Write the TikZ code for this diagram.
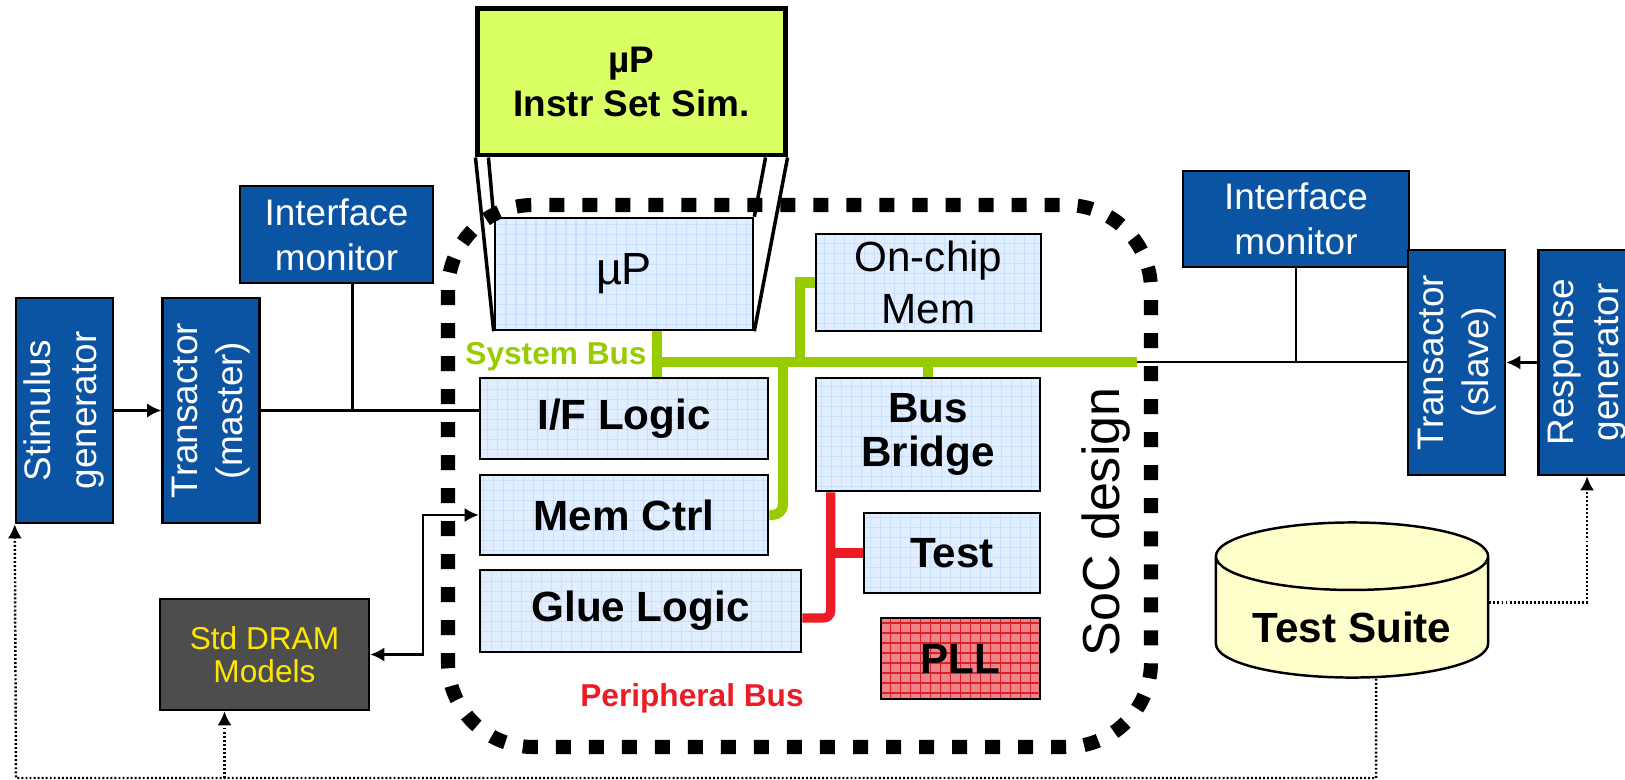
\documentclass[tikz,border=0pt]{standalone}
\usepackage{fontspec}
\setmainfont{Liberation Sans}
\usepackage{graphicx}
\usetikzlibrary{shapes.geometric, arrows.meta, positioning, calc}
\definecolor{tbblue}{RGB}{11, 84, 164}
\definecolor{chipblue}{RGB}{224, 238, 255}
\definecolor{chipgrid}{RGB}{198, 224, 255}
\definecolor{issgreen}{RGB}{218, 255, 100}
\definecolor{busgreen}{RGB}{153, 204, 0}
\definecolor{busred}{RGB}{237, 28, 36}
\definecolor{pllred}{RGB}{236, 132, 136}
\definecolor{pllgrid}{RGB}{220, 30, 40}
\definecolor{dramgray}{RGB}{77, 77, 77}
\definecolor{dramtext}{RGB}{255, 230, 0}
\definecolor{suiteyellow}{RGB}{255, 255, 204}

% two lines of text turned upright for the tall testbench boxes
\newcommand{\sidetext}[2]{\rotatebox{90}{\begin{tabular}{@{}c@{}}#1\\#2\end{tabular}}}

\begin{document}
\begin{tikzpicture}[x=0.01cm, y=-0.01cm, >={Latex[length=4pt,width=4pt]}]
    \tikzstyle{tbbox} = [rectangle, draw=black, line width=0.7pt, fill=tbblue,
                         text=white, inner sep=0pt, align=center,
                         font=\fontsize{10.5}{12.8}\selectfont]
    \tikzstyle{chipbox} = [rectangle, draw=black, line width=0.7pt, fill=chipblue,
                           inner sep=0pt, align=center,
                           font=\bfseries\fontsize{12}{12.4}\selectfont,
                           path picture={\draw[chipgrid, line width=0.3pt]
                             (path picture bounding box.south west) grid[step=0.1cm]
                             (path picture bounding box.north east);}]
    \tikzstyle{pllbox} = [chipbox, fill=pllred,
                          path picture={\draw[pllgrid, line width=0.35pt]
                            (path picture bounding box.south west) grid[step=0.1cm]
                            (path picture bounding box.north east);}]
    \tikzstyle{sysbus} = [busgreen, line width=2.85pt]
    \tikzstyle{perbus} = [busred, line width=2.6pt]
    \tikzstyle{wire} = [black, line width=0.6pt]
    \tikzstyle{arr} = [wire, ->]
    \tikzstyle{fback} = [black, line width=0.7pt, dash pattern=on 0.55pt off 0.6pt]
    \tikzstyle{proj} = [black, line width=1pt]
    \tikzstyle{soc} = [black, line width=4pt, dash pattern=on 0.15cm off 0.18cm,
                       rounded corners=0.85cm]

    \useasboundingbox (0,0) rectangle (1625,780);
    \clip (0,0) rectangle (1625,780);

    % testbench, left side
    \node[tbbox, minimum width=0.97cm, minimum height=2.25cm] (stim) at (64.5,410.5)
        {\sidetext{Stimulus}{generator}};
    \node[tbbox, minimum width=0.97cm, minimum height=2.25cm, right=0.47cm of stim] (tmaster)
        {\sidetext{Transactor}{(master)}};
    \node[tbbox, minimum width=1.93cm, minimum height=0.97cm] (mon1) at (336.5,234.5)
        {Interface\\monitor};
    \node[tbbox, fill=dramgray, text=dramtext, minimum width=2.09cm, minimum height=1.11cm,
          font=\fontsize{9}{9.5}\selectfont] (dram) at (264.5,654.5) {Std DRAM\\Models};

    % testbench, right side
    \node[tbbox, minimum width=2.26cm, minimum height=0.96cm] (mon2) at (1296,219)
        {Interface\\monitor};
    \node[tbbox, minimum width=0.97cm, minimum height=2.25cm] (tslave) at (1456.5,362.5)
        {\sidetext{Transactor}{(slave)}};
    \node[tbbox, minimum width=0.97cm, minimum height=2.25cm, right=0.31cm of tslave] (rgen)
        {\sidetext{Response}{generator}};
    \node[cylinder, shape border rotate=90, aspect=0.34, draw=black, line width=0.7pt,
          fill=suiteyellow, minimum width=2.72cm, minimum height=1.55cm, inner sep=0pt,
          font=\bfseries\fontsize{12}{14}\selectfont] (suite) at (1352,617.5)
        {\raisebox{-0.1cm}[\height][\depth]{Test Suite}};

    % the chip
    \node[chipbox, minimum width=2.58cm, minimum height=1.12cm,
          font=\fontsize{12.8}{15}\selectfont] (up) at (624,274) {µP};
    \node[chipbox, minimum width=2.25cm, minimum height=0.97cm,
          font=\fontsize{12}{15}\selectfont] (ocm) at (928.5,282.5) {On-chip\\Mem};
    \node[chipbox, minimum width=2.88cm, minimum height=0.81cm] (ifl) at (624,418.5) {I/F Logic};
    \node[chipbox, minimum width=2.88cm, minimum height=0.80cm] (mc) at (624,515) {Mem Ctrl};
    \node[chipbox, minimum width=3.21cm, minimum height=0.82cm] (glue) at (640.5,611) {Glue Logic};
    \node[chipbox, minimum width=2.24cm, minimum height=1.13cm] (bb) at (928,434.5) {Bus\\Bridge};
    \node[chipbox, minimum width=1.76cm, minimum height=0.80cm] (test) at (952,553) {Test};
    \node[pllbox, minimum width=1.59cm, minimum height=0.81cm] (pll) at (960.5,658.5) {PLL};

    % instruction set simulator standing in for the core
    \node[draw=black, line width=1.4pt, fill=issgreen, minimum width=3.07cm, minimum height=1.46cm,
          inner sep=0pt, align=center, font=\bfseries\fontsize{10.5}{12.3}\selectfont]
          (iss) at (631.5,82) {µP\\Instr Set Sim.};
    \draw[proj] (iss.south west) -- (up.south west);
    \draw[proj] ($(iss.south west)+(13,0)$) -- (up.north west);
    \draw[proj] (iss.south east) -- (up.south east);
    \draw[proj] ($(iss.south east)+(-22,0)$) -- (up.north east);

    % system bus
    \coordinate (sbj) at (657,362);
    \coordinate (mcj) at (783,362);
    \coordinate (ocj) at (800,362);
    \coordinate (sbend) at (1137,362);
    \draw[sysbus] (sbj |- up.south) -- (sbj |- ifl.north);
    \draw[sysbus] (sbj) -- (sbend);
    \draw[sysbus, rounded corners=3pt] (mcj) |- (mc.east);
    \draw[sysbus] (ocj) |- (ocm.west);
    \draw[sysbus] (bb.north |- sbj) -- (bb.north);

    % peripheral bus
    \coordinate (pbj) at ($(bb.south west)+(16,0)$);
    \draw[perbus, rounded corners=2pt] (pbj) |- ($(glue.east)+(0,7)$);
    \draw[perbus] (pbj |- test.west) -- (test.west);

    % testbench wiring
    \coordinate (m1j) at ($(mon1.south)+(16,0)$);
    \draw[arr] (stim) -- (tmaster);
    \draw[wire] (tmaster.east) -- (tmaster.east -| ifl.west);
    \draw[wire] (m1j) -- (m1j |- tmaster.east);
    \draw[wire] (sbend) -- (tslave.west |- sbend);
    \draw[wire] (mon2.south) -- (mon2.south |- sbend);
    \draw[arr] (rgen) -- (tslave);
    \draw[wire, <->] (dram.east) -| ($(mc.west)+(-56,0)$) -- (mc.west);

    % test suite feedback
    \coordinate (lp) at (16,778);
    \coordinate (dj) at ($(dram.south)+(-40,0)$);
    \draw[fback, ->] ($(suite.south)+(24,0)$) |- (lp) -- (stim.south west);
    \draw[fback, ->] (dj |- lp) -- (dram.south -| dj);
    \draw[fback, ->] ($(suite.east)+(0,-15)$) -| (rgen.south);

    % labels
    \node[text=busgreen, anchor=base, font=\bfseries\fontsize{9}{10}\selectfont]
        (sblabel) at (556,365) {System Bus};
    \node[text=busred, anchor=base, font=\bfseries\fontsize{9}{10}\selectfont]
        (pblabel) at (692,707) {Peripheral Bus};
    \node[rotate=90, anchor=base, font=\fontsize{14.8}{16}\selectfont]
        (soclabel) at (1119,522) {SoC design};

    % SoC boundary
    \draw[soc] (448,205) rectangle (1151,747);
\end{tikzpicture}
\end{document}
